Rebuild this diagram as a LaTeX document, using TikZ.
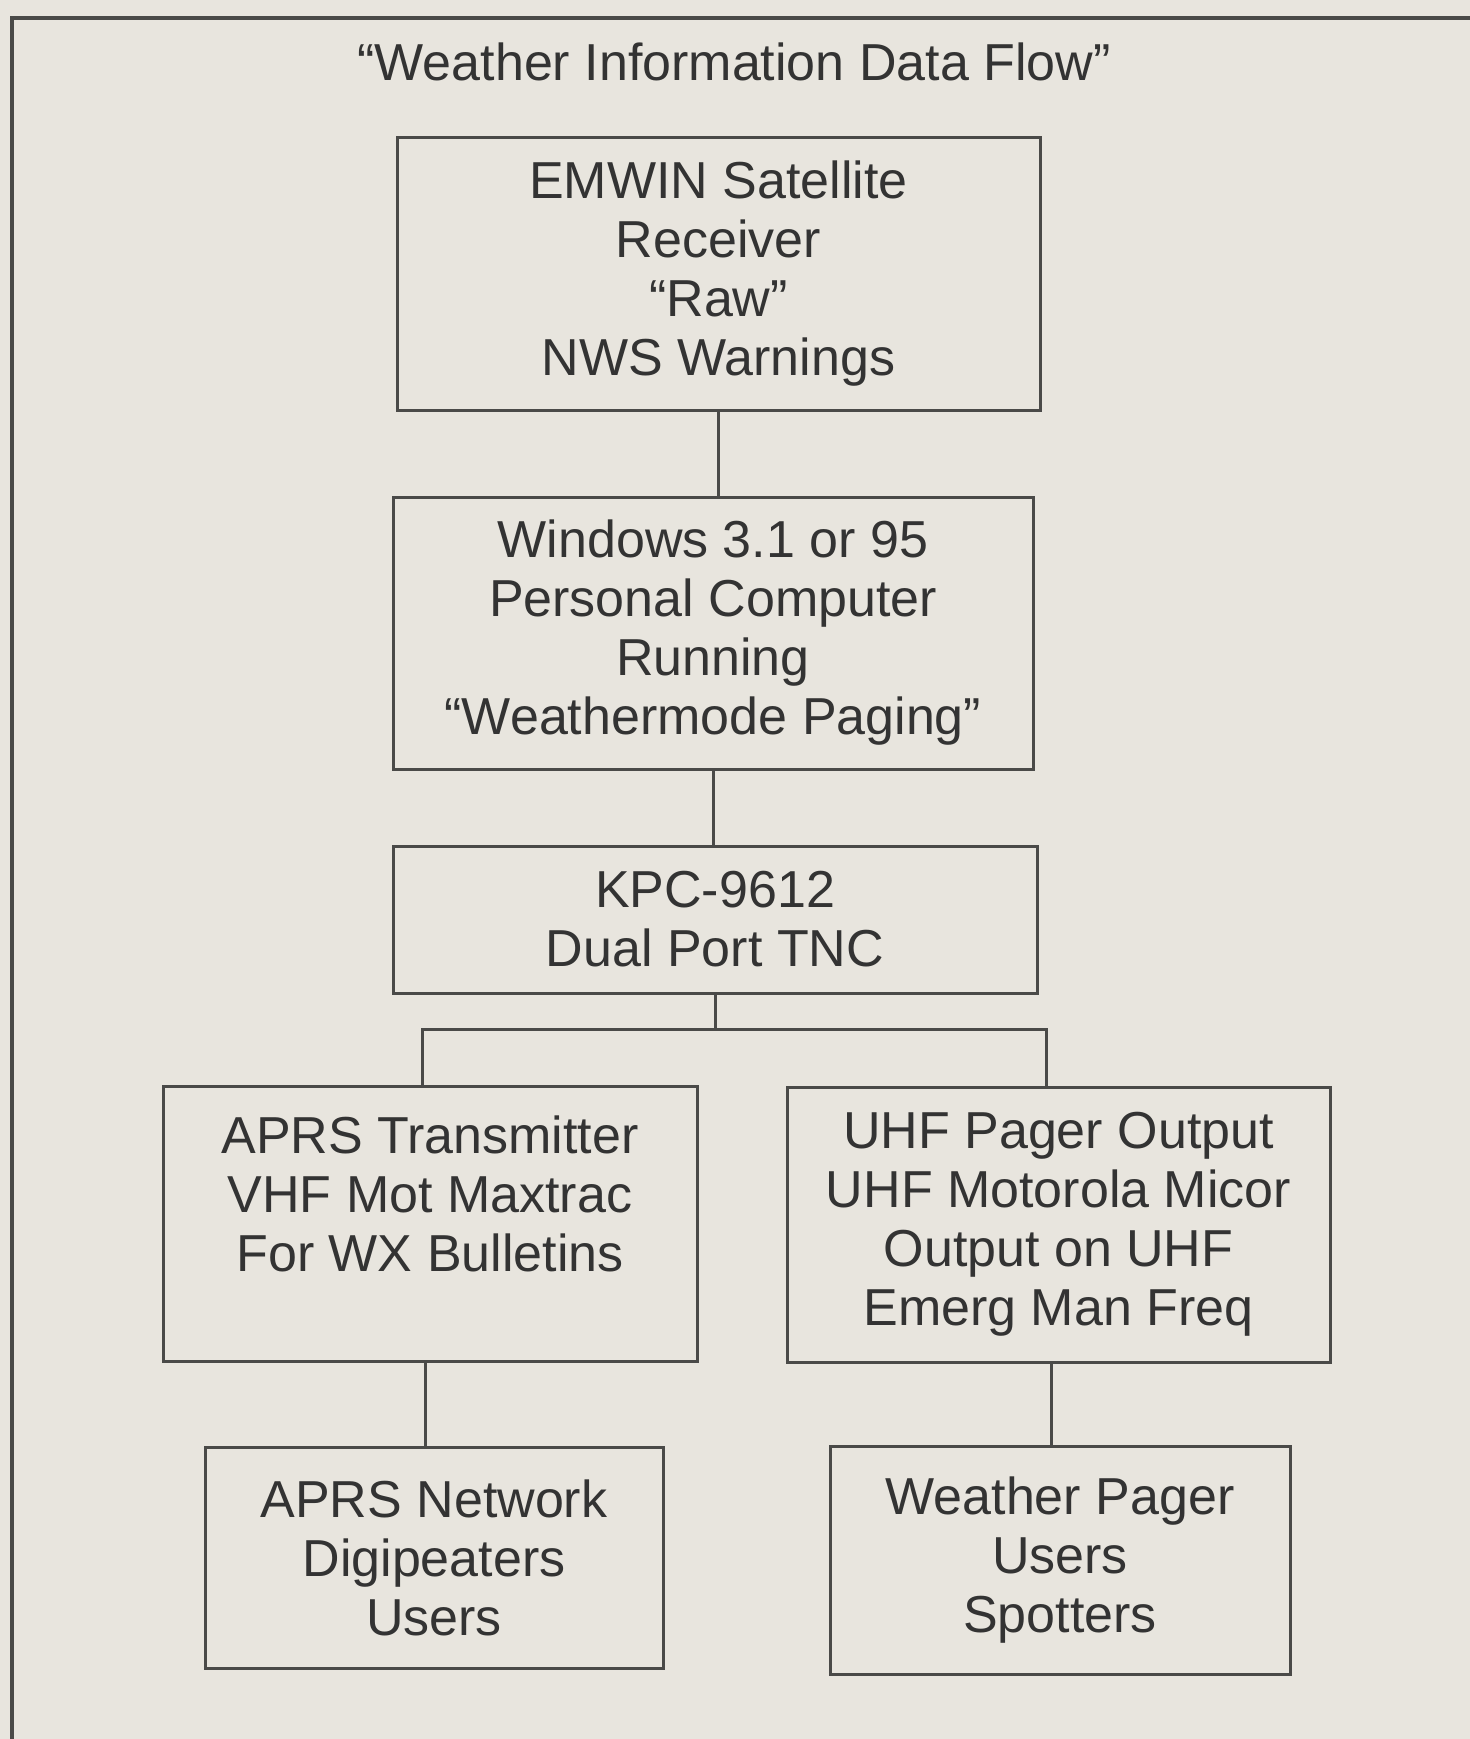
\documentclass[tikz,border=0pt]{standalone}
\usepackage{fontspec}
\setmainfont{Liberation Sans}
\definecolor{paper}{HTML}{E8E5DE}
\definecolor{ink}{HTML}{333333}
\definecolor{rule}{HTML}{4A4A48}
\begin{document}
\begin{tikzpicture}[x=0.5pt,y=-0.5pt,
  wxbox/.style={draw=rule,line width=1.5pt,inner sep=0pt,align=center,text=ink,
    font=\fontsize{26}{29.5}\selectfont},
  link/.style={draw=rule,line width=1.5pt}]
  % page and outer frame
  \fill[paper] (0,0) rectangle (1470,1739);
  \useasboundingbox (0,0) rectangle (1470,1739);
  \draw[rule,line width=2pt] (12,1739) |- (1470,18);
  \node[text=ink,font=\fontsize{26}{29.5}\selectfont] (title) at (734,62) {“Weather Information Data Flow”};
  % main chain
  \node[wxbox,minimum width=321.5pt,minimum height=136pt] (emwin) at (718.5,274)
    {EMWIN Satellite\\Receiver\\“Raw”\\NWS Warnings};
  \node[wxbox,minimum width=320pt,minimum height=136pt] (pc) at (713,633)
    {Windows 3.1 or 95\\Personal Computer\\Running\\“Weathermode Paging”};
  \node[wxbox,minimum width=322pt,minimum height=73.5pt] (tnc) at (715,919.5)
    {KPC-9612\\Dual Port TNC};
  % two outputs
  \node[wxbox,minimum width=267pt,minimum height=137.5pt] (aprstx) at (430,1223.5)
    {APRS Transmitter\\VHF Mot Maxtrac\\For WX Bulletins\\\mbox{}};
  \node[wxbox,minimum width=271.5pt,minimum height=137.5pt] (uhf) at (1058.5,1224.5)
    {UHF Pager Output\\UHF Motorola Micor\\Output on UHF\\Emerg Man Freq};
  \node[wxbox,minimum width=229pt,minimum height=110.5pt] (aprsnet) at (434,1557.5)
    {APRS Network\\Digipeaters\\Users};
  \node[wxbox,minimum width=230pt,minimum height=114pt] (pager) at (1060,1560)
    {Weather Pager\\Users\\Spotters};
  % connectors
  \coordinate (split) at (717,1029);
  \draw[link] (emwin.south) -- (emwin.south |- pc.north);
  \draw[link] (pc.south) -- (pc.south |- tnc.north);
  \draw[link] (tnc.south) -- (tnc.south |- split);
  \draw[link] ([xshift=-4pt]aprstx.north) |- (split) -| ([xshift=-6pt]uhf.north);
  \draw[link] ([xshift=-2.5pt]aprstx.south) -- ([xshift=-2.5pt]aprstx.south |- aprsnet.north);
  \draw[link] ([xshift=-3.5pt]uhf.south) -- ([xshift=-3.5pt]uhf.south |- pager.north);
\end{tikzpicture}
\end{document}
